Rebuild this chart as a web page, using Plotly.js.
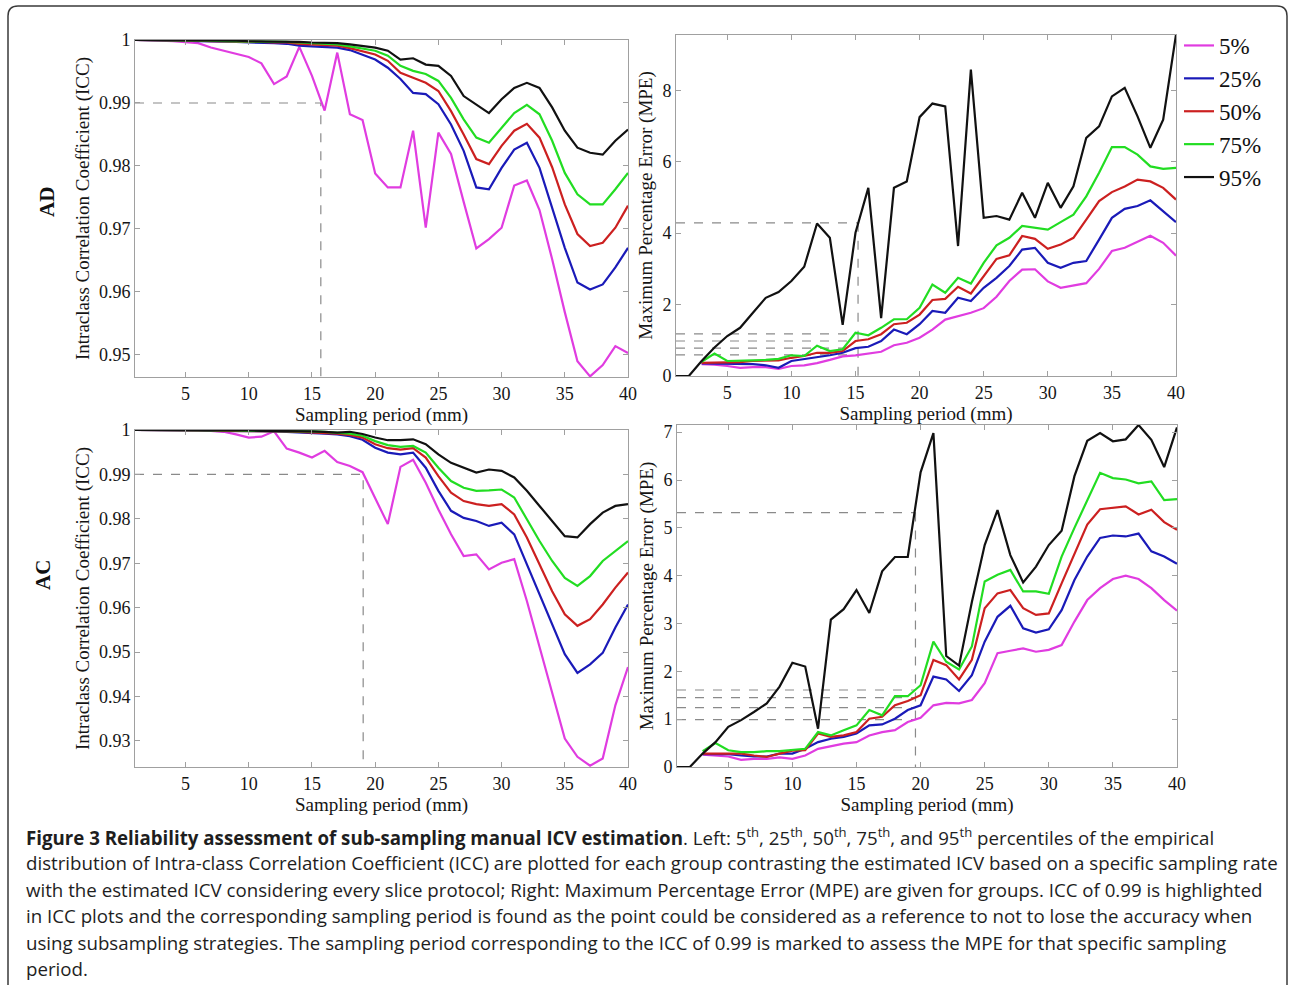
<!DOCTYPE html>
<html>
<head>
<meta charset="utf-8">
<script src="https://cdn.plot.ly/plotly-3.0.1.min.js"></script>
<style>html,body{margin:0;padding:0;background:#fff;}#chart{width:1295px;height:985px;}</style>
</head>
<body>
<div id="chart"></div>
<script>
// ---------------- DATA ----------------
const periods = [1,2,3,4,5,6,7,8,9,10,11,12,13,14,15,16,17,18,19,20,21,22,23,24,25,26,27,28,29,30,31,32,33,34,35,36,37,38,39,40];
const percentileLabels = ['5%','25%','50%','75%','95%'];
const rowLabels = ['AD','AC'];

// AD - ICC
const p5_AD_icc  = [1.0,1.0,0.9999,0.9998,0.9997,0.9995,0.9988,0.9983,0.9979,0.9973,0.9963,0.9930,0.9942,0.9989,0.9943,0.9888,0.9980,0.9882,0.9873,0.9788,0.9766,0.9766,0.9856,0.9702,0.9853,0.9819,0.9743,0.9669,0.9684,0.9702,0.9769,0.9777,0.9730,0.9652,0.9568,0.9490,0.9466,0.9484,0.9514,0.9503];
const p25_AD_icc = [1,1,1,0.9999,0.9999,0.9998,0.9998,0.9997,0.9997,0.9996,0.9996,0.9995,0.9994,0.9991,0.9990,0.9989,0.9988,0.9984,0.9976,0.9969,0.9956,0.9938,0.9916,0.9914,0.9898,0.9866,0.9824,0.9766,0.9763,0.9797,0.9826,0.9837,0.9797,0.9734,0.9670,0.9615,0.9604,0.9612,0.9639,0.9670];
const p50_AD_icc = [1,1,1,0.9999,0.9999,0.9999,0.9998,0.9998,0.9998,0.9997,0.9997,0.9996,0.9996,0.9994,0.9993,0.9992,0.9991,0.9987,0.9982,0.9977,0.9967,0.9948,0.9940,0.9932,0.9919,0.9887,0.9850,0.9811,0.9803,0.9832,0.9856,0.9867,0.9845,0.9798,0.9739,0.9692,0.9673,0.9678,0.9702,0.9737];
const p75_AD_icc = [1,1,1,1,0.9999,0.9999,0.9999,0.9998,0.9998,0.9998,0.9997,0.9997,0.9997,0.9996,0.9995,0.9994,0.9993,0.9990,0.9986,0.9983,0.9975,0.9959,0.9951,0.9946,0.9935,0.9908,0.9874,0.9845,0.9837,0.9861,0.9884,0.9897,0.9882,0.9840,0.9789,0.9755,0.9739,0.9739,0.9763,0.9789];
const p95_AD_icc = [1,1,1,1,1,0.9999,0.9999,0.9999,0.9999,0.9998,0.9998,0.9998,0.9997,0.9997,0.9996,0.9996,0.9995,0.9993,0.9990,0.9988,0.9983,0.9969,0.9971,0.9961,0.9959,0.9943,0.9911,0.9898,0.9884,0.9906,0.9924,0.9932,0.9924,0.9893,0.9856,0.9829,0.9821,0.9818,0.9840,0.9858];

// AD - MPE
const p5_AD_mpe  = [null,null,0.33,0.32,0.28,0.23,0.25,0.25,0.20,0.28,0.30,0.36,0.45,0.55,0.58,0.62,0.68,0.86,0.93,1.07,1.30,1.58,1.67,1.77,1.90,2.22,2.66,2.98,2.99,2.65,2.47,2.54,2.60,3.00,3.50,3.59,3.77,3.93,3.73,3.37];
const p25_AD_mpe = [null,null,0.35,0.35,0.33,0.33,0.33,0.30,0.23,0.42,0.47,0.51,0.58,0.65,0.78,0.82,0.98,1.30,1.17,1.45,1.82,1.77,2.19,2.10,2.47,2.75,3.08,3.54,3.59,3.17,3.03,3.17,3.22,3.82,4.43,4.68,4.76,4.92,4.62,4.31];
const p50_AD_mpe = [null,null,0.37,0.37,0.37,0.39,0.42,0.42,0.44,0.51,0.56,0.65,0.65,0.70,0.98,1.03,1.17,1.45,1.49,1.72,2.13,2.16,2.50,2.31,2.80,3.28,3.38,3.92,3.84,3.56,3.68,3.87,4.38,4.90,5.15,5.31,5.50,5.45,5.27,4.94];
const p75_AD_mpe = [null,null,0.40,0.63,0.42,0.42,0.44,0.45,0.48,0.58,0.56,0.85,0.70,0.75,1.21,1.14,1.35,1.59,1.59,1.91,2.56,2.33,2.75,2.59,3.17,3.66,3.87,4.20,4.15,4.10,4.31,4.52,5.03,5.69,6.41,6.41,6.20,5.87,5.80,5.83];
const p95_AD_mpe = [0,0,0.42,0.80,1.12,1.35,1.77,2.19,2.35,2.66,3.06,4.27,3.87,1.43,4.01,5.27,1.62,5.27,5.45,7.25,7.63,7.55,3.64,8.58,4.43,4.48,4.38,5.13,4.43,5.41,4.71,5.31,6.67,6.99,7.83,8.07,7.27,6.39,7.18,9.56];

// AC - ICC
const p5_AC_icc  = [1,1,1,1,1,0.9999,0.9998,0.9996,0.9990,0.9983,0.9985,0.9997,0.9958,0.9949,0.9938,0.9953,0.9928,0.9919,0.9905,0.9845,0.9788,0.9917,0.9933,0.9881,0.9821,0.9765,0.9716,0.9720,0.9686,0.9701,0.9709,0.9615,0.9510,0.9405,0.9305,0.9264,0.9244,0.9260,0.9380,0.9466];
const p25_AC_icc = [1,1,1,1,0.9999,0.9999,0.9998,0.9998,0.9998,0.9997,0.9997,0.9997,0.9996,0.9995,0.9994,0.9992,0.9990,0.9986,0.9978,0.9960,0.9949,0.9945,0.9949,0.9915,0.9863,0.9818,0.9802,0.9795,0.9784,0.9791,0.9765,0.9697,0.9630,0.9562,0.9495,0.9453,0.9472,0.9498,0.9555,0.9607];
const p50_AC_icc = [1,1,1,1,1,0.9999,0.9999,0.9998,0.9998,0.9998,0.9998,0.9997,0.9997,0.9996,0.9995,0.9994,0.9992,0.9989,0.9983,0.9968,0.9959,0.9956,0.9959,0.9938,0.9896,0.9859,0.9840,0.9833,0.9829,0.9833,0.9810,0.9758,0.9697,0.9637,0.9585,0.9559,0.9574,0.9607,0.9645,0.9679];
const p75_AC_icc = [1,1,1,1,1,1,0.9999,0.9999,0.9999,0.9998,0.9998,0.9998,0.9998,0.9997,0.9997,0.9996,0.9994,0.9992,0.9987,0.9975,0.9966,0.9962,0.9964,0.9949,0.9915,0.9885,0.9870,0.9863,0.9864,0.9866,0.9848,0.9799,0.9750,0.9705,0.9667,0.9649,0.9671,0.9705,0.9727,0.9750];
const p95_AC_icc = [1,1,1,1,1,1,0.9999,0.9999,0.9999,0.9999,0.9998,0.9998,0.9998,0.9997,0.9997,0.9996,0.9994,0.9996,0.9991,0.9983,0.9977,0.9977,0.9979,0.9968,0.9945,0.9926,0.9915,0.9904,0.9911,0.9908,0.9893,0.9863,0.9829,0.9795,0.9761,0.9758,0.9788,0.9814,0.9829,0.9833];

// AC - MPE
const p5_AC_mpe  = [null,null,0.26,0.24,0.22,0.15,0.17,0.17,0.20,0.17,0.24,0.38,0.43,0.49,0.52,0.66,0.73,0.77,0.94,1.03,1.29,1.34,1.33,1.40,1.75,2.38,2.43,2.48,2.41,2.45,2.55,3.04,3.49,3.74,3.93,4.00,3.93,3.74,3.49,3.27];
const p25_AC_mpe = [null,null,0.27,0.27,0.27,0.24,0.22,0.22,0.28,0.28,0.38,0.52,0.59,0.63,0.70,0.87,0.89,1.01,1.19,1.29,1.89,1.83,1.59,1.92,2.62,3.14,3.37,2.90,2.81,2.88,3.28,3.91,4.40,4.79,4.84,4.82,4.88,4.51,4.40,4.25];
const p50_AC_mpe = [null,null,0.28,0.28,0.28,0.28,0.24,0.21,0.28,0.34,0.35,0.70,0.63,0.66,0.73,1.01,1.05,1.29,1.38,1.50,2.24,2.13,1.83,2.24,3.32,3.63,3.70,3.32,3.18,3.21,3.84,4.47,5.07,5.39,5.42,5.45,5.28,5.38,5.12,4.96];
const p75_AC_mpe = [null,null,0.33,0.50,0.35,0.31,0.31,0.33,0.33,0.35,0.38,0.73,0.66,0.77,0.87,1.19,1.08,1.48,1.48,1.71,2.62,2.20,2.04,2.52,3.88,4.02,4.12,3.67,3.67,3.62,4.40,5.00,5.56,6.15,6.04,6.01,5.93,5.97,5.58,5.60];
const p95_AC_mpe = [0,0,0.28,0.52,0.84,0.98,1.15,1.33,1.68,2.18,2.10,0.80,3.08,3.30,3.70,3.22,4.09,4.39,4.39,6.16,6.98,2.32,2.12,3.45,4.64,5.37,4.43,3.86,4.19,4.64,4.94,6.08,6.82,6.98,6.81,6.85,7.15,6.84,6.27,7.10];

// Reference (0.99 ICC) markers
const iccThreshold = 0.99;
const refPeriod_AD_icc = 15.7;
const refPeriod_AD_mpe = 15.2;
const refPeriod_AC_icc = 19.05;
const refPeriod_AC_mpe = 19.6;
const refMPE_AD = [0.59, 0.78, 0.98, 1.18, 4.29];
const refMPE_AC = [0.99, 1.24, 1.45, 1.61, 5.32];

// Tick labels
const xTicks = [5,10,15,20,25,30,35,40];
const yTicks_AD_icc = [0.95,0.96,0.97,0.98,0.99,1];
const yTickText_AD_icc = ['0.95','0.96','0.97','0.98','0.99','1'];
const yTicks_AD_mpe = [0,2,4,6,8];
const yTicks_AC_icc = [0.93,0.94,0.95,0.96,0.97,0.98,0.99,1];
const yTickText_AC_icc = ['0.93','0.94','0.95','0.96','0.97','0.98','0.99','1'];
const yTicks_AC_mpe = [0,1,2,3,4,5,6,7];

const captionLines = [
  '<b>Figure 3 Reliability assessment of sub-sampling manual ICV estimation</b>. Left: 5<sup>th</sup>, 25<sup>th</sup>, 50<sup>th</sup>, 75<sup>th</sup>, and 95<sup>th</sup> percentiles of the empirical',
  'distribution of Intra-class Correlation Coefficient (ICC) are plotted for each group contrasting the estimated ICV based on a specific sampling rate',
  'with the estimated ICV considering every slice protocol; Right: Maximum Percentage Error (MPE) are given for groups. ICC of 0.99 is highlighted',
  'in ICC plots and the corresponding sampling period is found as the point could be considered as a reference to not to lose the accuracy when',
  'using subsampling strategies. The sampling period corresponding to the ICC of 0.99 is marked to assess the MPE for that specific sampling',
  'period.'
];

// ---------------- STYLE / LAYOUT ----------------
const W = 1295, H = 985;
const colors = ['#e03ce0', '#1a1ab8', '#cc2020', '#22dd22', '#111111'];
const SERIF = 'Liberation Serif, Times New Roman, serif';

const panels = [
  {xa:'x',  ya:'y',  series:[p5_AD_icc,p25_AD_icc,p50_AD_icc,p75_AD_icc,p95_AD_icc], range:[0.9465,1], legend:true},
  {xa:'x2', ya:'y2', series:[p5_AD_mpe,p25_AD_mpe,p50_AD_mpe,p75_AD_mpe,p95_AD_mpe], range:[0,9.55]},
  {xa:'x3', ya:'y3', series:[p5_AC_icc,p25_AC_icc,p50_AC_icc,p75_AC_icc,p95_AC_icc], range:[0.9241,1]},
  {xa:'x4', ya:'y4', series:[p5_AC_mpe,p25_AC_mpe,p50_AC_mpe,p75_AC_mpe,p95_AC_mpe], range:[0,7.15]}
];

const traces = [];
const dashStyle = {color:'#8a8a8a', width:1.2, dash:'dash'};

function iccRef(p, xa, ya, ymin){
  traces.push({x:[periods[0], p, p, p], y:[iccThreshold, iccThreshold, iccThreshold, ymin], xaxis:xa, yaxis:ya,
    mode:'lines', line:dashStyle, showlegend:false, hoverinfo:'skip'});
}
function mpeRef(p, vals, xa, ya){
  const xs = [], ys = [];
  vals.forEach(v => { xs.push(periods[0], p, null); ys.push(v, v, null); });
  xs.push(p, p); ys.push(Math.max(...vals), 0);
  traces.push({x:xs, y:ys, xaxis:xa, yaxis:ya, mode:'lines', line:dashStyle, showlegend:false, hoverinfo:'skip'});
}
iccRef(refPeriod_AD_icc, 'x', 'y', panels[0].range[0]);
mpeRef(refPeriod_AD_mpe, refMPE_AD, 'x2', 'y2');
iccRef(refPeriod_AC_icc, 'x3', 'y3', panels[2].range[0]);
mpeRef(refPeriod_AC_mpe, refMPE_AC, 'x4', 'y4');

panels.forEach(pn => {
  pn.series.forEach((s, i) => {
    traces.push({
      x: periods, y: s, xaxis: pn.xa, yaxis: pn.ya, mode: 'lines',
      name: percentileLabels[i], legendrank: i,
      line: {color: colors[i], width: 2.2},
      showlegend: !!pn.legend, connectgaps: false
    });
  });
});

function px(x){ return x / W; }
function py(y){ return 1 - y / H; }

const axisBase = {
  showline: true, linecolor: '#a0a0a0', linewidth: 1, mirror: 'ticks',
  ticks: 'inside', ticklen: 5, tickcolor: '#a0a0a0', tickwidth: 1,
  showgrid: false, zeroline: false, fixedrange: true,
  tickfont: {family: SERIF, size: 18, color: '#151515'}
};
function xAxis(l, r, anchor){
  return Object.assign({}, axisBase, {
    domain:[px(l), px(r)], anchor: anchor, range:[1,40], tickmode:'array', tickvals:xTicks,
    title:{text:'Sampling period (mm)', font:{family:SERIF, size:19, color:'#151515'}, standoff:0}
  });
}
function yAxis(t, b, anchor, range, vals, text, title){
  const a = Object.assign({}, axisBase, {
    domain:[py(b), py(t)], anchor: anchor, range: range, tickmode:'array', tickvals: vals,
    title:{text:title, font:{family:SERIF, size:19, color:'#151515'}, standoff:4}
  });
  if (text) a.ticktext = text;
  return a;
}

const annotations = [];
annotations.push({xref:'paper', yref:'paper', x:px(33), y:py(185), text:'<b>'+rowLabels[0]+'</b>', textangle:-90,
  showarrow:false, font:{family:SERIF, size:21, color:'#111'}});
annotations.push({xref:'paper', yref:'paper', x:px(29), y:py(575), text:'<b>'+rowLabels[1]+'</b>', textangle:-90,
  showarrow:false, font:{family:SERIF, size:21, color:'#111'}});
const capY = [836, 862, 889, 915, 942, 968];
captionLines.forEach((t, i) => {
  annotations.push({xref:'paper', yref:'paper', x:px(24), y:py(capY[i]), xanchor:'left', yanchor:'middle',
    text:t, showarrow:false, align:'left', font:{family:'Open Sans, Noto Sans, sans-serif', size:18.7, color:'#1e1e1e'}});
});

const r = 10;
const borderPath = 'M ' + px(8) + ' ' + py(995) + ' L ' + px(8) + ' ' + py(6 + r) +
  ' Q ' + px(8) + ' ' + py(6) + ' ' + px(8 + r) + ' ' + py(6) +
  ' L ' + px(1287 - r) + ' ' + py(6) +
  ' Q ' + px(1287) + ' ' + py(6) + ' ' + px(1287) + ' ' + py(6 + r) +
  ' L ' + px(1287) + ' ' + py(995);

const layout = {
  width: W, height: H, margin:{l:0, r:0, t:0, b:0},
  paper_bgcolor:'#ffffff', plot_bgcolor:'#ffffff',
  showlegend: true,
  legend:{x:px(1179), y:py(24), xanchor:'left', yanchor:'top', bgcolor:'rgba(0,0,0,0)', borderwidth:0,
    font:{family:SERIF, size:23, color:'#111'}, tracegroupgap:0, itemwidth:30, traceorder:'normal'},
  xaxis:  xAxis(135, 628, 'y'),
  yaxis:  yAxis(40, 377, 'x', panels[0].range, yTicks_AD_icc, yTickText_AD_icc, 'Intraclass Correlation Coefficient (ICC)'),
  xaxis2: xAxis(676, 1176, 'y2'),
  yaxis2: yAxis(35, 376, 'x2', panels[1].range, yTicks_AD_mpe, null, 'Maximum Percentage Error (MPE)'),
  xaxis3: xAxis(135, 628, 'y3'),
  yaxis3: yAxis(430, 767, 'x3', panels[2].range, yTicks_AC_icc, yTickText_AC_icc, 'Intraclass Correlation Coefficient (ICC)'),
  xaxis4: xAxis(677, 1177, 'y4'),
  yaxis4: yAxis(425, 767, 'x4', panels[3].range, yTicks_AC_mpe, null, 'Maximum Percentage Error (MPE)'),
  annotations: annotations,
  shapes:[{type:'path', xref:'paper', yref:'paper', path: borderPath, line:{color:'#3a3a3a', width:1.5}}]
};

Plotly.newPlot('chart', traces, layout, {displayModeBar:false, staticPlot:true});
</script>
</body>
</html>
